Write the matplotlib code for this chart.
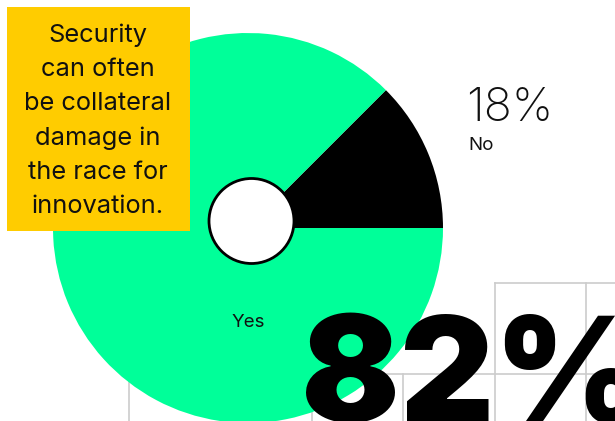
import matplotlib
matplotlib.use("Agg")
import matplotlib.pyplot as plt
from matplotlib.patches import Circle, Rectangle

# data
answers = ['No', 'Yes']
answer_pct = [18, 82]          # printed labels
slice_sizes = [12.5, 87.5]     # wedge as drawn (black wedge is only ~45 deg)
slice_colors = ['#000000', '#00FF99']
note_lines = ['Security', 'can often', 'be collateral', 'damage in',
              'the race for', 'innovation.']

W, H = 615, 421
plt.rcParams['font.family'] = ['Inter', 'DejaVu Sans']

fig = plt.figure(figsize=(W / 100, H / 100), dpi=100)
ax = fig.add_axes([0, 0, 1, 1])


def yy(y):
    # image y (top down) -> axes y
    return H - y


# decorative grid in the lower right, behind the pie
gc = '#CCCCCC'
cols = [129, 220.5, 312, 403, 494.5, 586]
ax.plot([129, W], [yy(374), yy(374)], color=gc, lw=1.2, zorder=0)
ax.plot([494.5, W], [yy(283), yy(283)], color=gc, lw=1.2, zorder=0)
for x in cols:
    top = 283 if x > 450 else 374
    ax.plot([x, x], [yy(top), yy(H)], color=gc, lw=1.2, zorder=0)

# pie
ax.pie(slice_sizes, colors=slice_colors, startangle=0, counterclock=True,
       center=(248, yy(228)), radius=195, frame=True,
       wedgeprops=dict(linewidth=0), normalize=True)
ax.add_patch(Circle((251.5, yy(221)), 42.5, facecolor='white',
                    edgecolor='black', lw=2, zorder=5))

# note box
ax.add_patch(Rectangle((7, yy(231)), 183, 224, facecolor='#FFCC00',
                       edgecolor='none', zorder=6))
for i, line in enumerate(note_lines):
    ax.text(98, yy(35 + i * 34.3), line, ha='center', va='center',
            fontsize=18.3, color='#111111', zorder=7)

# labels
ax.text(466, yy(121), '{}%'.format(answer_pct[0]), fontsize=33.5,
        fontweight=200, color='#111111', ha='left', va='baseline',
        zorder=7)
ax.text(468, yy(150), answers[0], fontsize=13.5, color='#111111',
        ha='left', va='baseline', zorder=7)
ax.text(248, yy(327), answers[1], fontsize=13.5, color='#111111',
        ha='center', va='baseline', zorder=7)
ax.text(301, yy(422), '{}%'.format(answer_pct[1]), fontsize=105,
        fontweight='black', color='black', ha='left', va='baseline',
        zorder=8)

ax.set_xlim(0, W)
ax.set_ylim(0, H)
ax.set_aspect('auto')
ax.axis('off')

fig.savefig('out.png', dpi=100)
